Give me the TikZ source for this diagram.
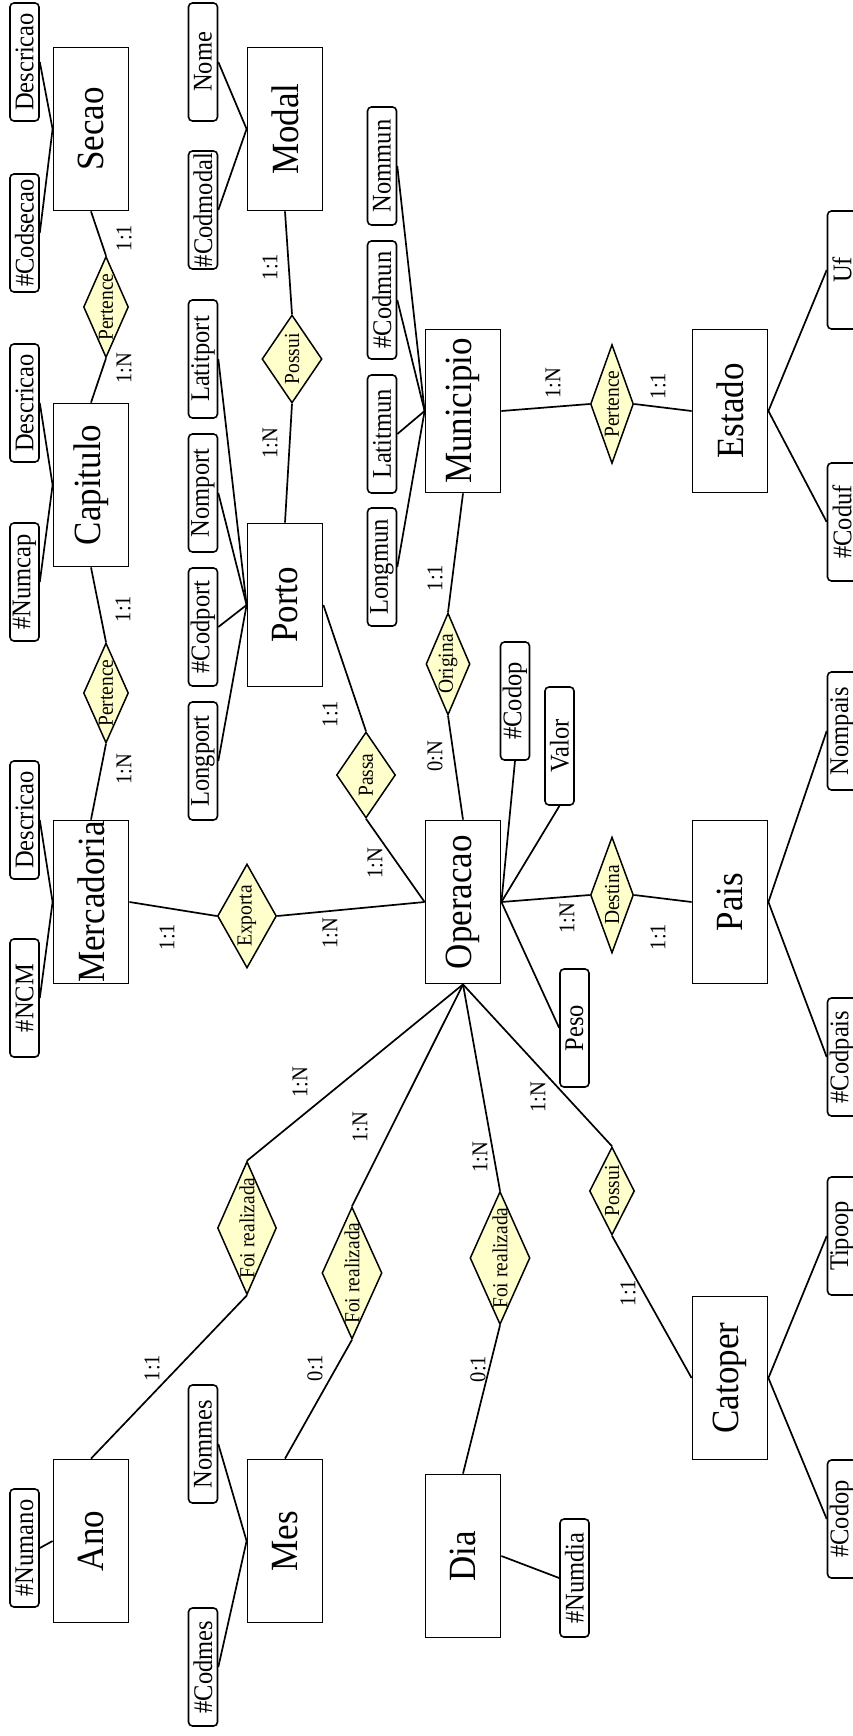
\documentclass[tikz,border=0pt]{standalone}
\usepackage{fontspec}
\setmainfont{Liberation Serif}
\usepackage{graphicx}
\usetikzlibrary{shapes.geometric}
\definecolor{relfill}{RGB}{255,255,204}
\newcommand{\vst}[1]{\scalebox{1}[1.1]{#1}}
\begin{document}
\begin{tikzpicture}[x=1pt,y=-1pt,
 ent/.style={draw, line width=1.8pt, minimum width=75pt, minimum height=163pt, inner sep=0pt},
 att/.style={draw, line width=1.6pt, rounded corners=4pt, minimum width=29pt, minimum height=118pt, inner sep=0pt},
 rel/.style={draw, diamond, fill=relfill, line width=1.5pt, inner sep=0pt},
 enttxt/.style={rotate=90, inner sep=0pt, font=\fontsize{35}{40}\selectfont},
 atttxt/.style={rotate=90, inner sep=0pt, font=\fontsize{24.5}{28}\selectfont},
 reltxt/.style={rotate=90, inner sep=0pt, font=\fontsize{19.5}{22}\selectfont},
 card/.style={rotate=90, inner sep=0pt, font=\fontsize{20.5}{24}\selectfont},
 conn/.style={line width=1.7pt},
]
\useasboundingbox (0,0) rectangle (853,1736);

% ---------- entities
\node[ent] (secao) at (91,129) {};
\node[ent] (capitulo) at (91,485) {};
\node[ent] (mercadoria) at (91,902) {};
\node[ent] (ano) at (91,1541) {};
\node[ent] (modal) at (285,129) {};
\node[ent] (porto) at (285,605) {};
\node[ent] (mes) at (285,1541) {};
\node[ent] (municipio) at (463,411) {};
\node[ent] (operacao) at (463,902) {};
\node[ent] (dia) at (463,1556) {};
\node[ent] (estado) at (730,411) {};
\node[ent] (pais) at (730,902) {};
\node[ent] (catoper) at (730,1378) {};

% ---------- attributes
\node[att] (secdesc) at (24.5,62) {};
\node[att] (codsecao) at (24.5,233) {};
\node[att] (capdesc) at (24.5,403) {};
\node[att] (numcap) at (24.5,582) {};
\node[att] (merdesc) at (24.5,820) {};
\node[att] (ncm) at (24.5,998) {};
\node[att] (numano) at (24.5,1548) {};
\node[att] (nome) at (203,62) {};
\node[att] (codmodal) at (203,210) {};
\node[att] (latitport) at (203,359) {};
\node[att] (nomport) at (203,493) {};
\node[att] (codport) at (203,627) {};
\node[att] (longport) at (203,761) {};
\node[att] (nommes) at (203,1444) {};
\node[att] (codmes) at (203,1667) {};
\node[att] (nommun) at (382,166) {};
\node[att] (codmun) at (382,300) {};
\node[att] (latitmun) at (382,434) {};
\node[att] (longmun) at (382,567) {};
\node[att] (codopop) at (515,701) {};
\node[att] (valor) at (559.5,746) {};
\node[att] (peso) at (574.5,1028) {};
\node[att] (numdia) at (574.5,1578) {};
\node[att] (uf) at (842,270) {};
\node[att] (coduf) at (842,522) {};
\node[att] (nompais) at (842,731) {};
\node[att] (codpais) at (842,1057) {};
\node[att] (tipoop) at (842,1236) {};
\node[att] (codopcat) at (842,1519) {};

% ---------- relationships
\node[rel, minimum width=45pt, minimum height=101pt] (pert1) at (106,307) {};
\node[rel, minimum width=45pt, minimum height=100pt] (pert2) at (106,693) {};
\node[rel, minimum width=60pt, minimum height=88pt] (possui1) at (292,359) {};
\node[rel, minimum width=59pt, minimum height=86pt] (passa) at (366,775) {};
\node[rel, minimum width=59pt, minimum height=104pt] (exporta) at (247,916) {};
\node[rel, minimum width=44pt, minimum height=102pt] (origina) at (448,664) {};
\node[rel, minimum width=43pt, minimum height=119pt] (pert3) at (612,404) {};
\node[rel, minimum width=43pt, minimum height=116pt] (destina) at (612,895) {};
\node[rel, minimum width=59pt, minimum height=133pt] (fr1) at (247,1228) {};
\node[rel, minimum width=60pt, minimum height=132pt] (fr2) at (352,1273) {};
\node[rel, minimum width=60pt, minimum height=133pt] (fr3) at (500,1258) {};
\node[rel, minimum width=45pt, minimum height=88pt] (possui2) at (612,1191) {};

% ---------- relationship connectors
\draw[conn] (secao.south) -- (pert1.north);
\draw[conn] (pert1.south) -- (capitulo.north);
\draw[conn] (capitulo.south) -- (pert2.north);
\draw[conn] (pert2.south) -- (mercadoria.north);
\draw[conn] (mercadoria.east) -- (exporta.west);
\draw[conn] (exporta.east) -- (operacao.west);
\draw[conn] (modal.south) -- (possui1.north);
\draw[conn] (possui1.south) -- (porto.north);
\draw[conn] (porto.east) -- (passa.north);
\draw[conn] (passa.south) -- (operacao.west);
\draw[conn] (municipio.south) -- (origina.north);
\draw[conn] (origina.south) -- (operacao.north);
\draw[conn] (municipio.east) -- (pert3.west);
\draw[conn] (pert3.east) -- (estado.west);
\draw[conn] (operacao.east) -- (destina.west);
\draw[conn] (destina.east) -- (pais.west);
\draw[conn] (operacao.south) -- (fr1.north);
\draw[conn] (fr1.south) -- (ano.north);
\draw[conn] (operacao.south) -- (fr2.north);
\draw[conn] (fr2.south) -- (mes.north);
\draw[conn] (operacao.south) -- (fr3.north);
\draw[conn] (fr3.south) -- (dia.north);
\draw[conn] (operacao.south) -- (possui2.north);
\draw[conn] (possui2.south) -- (catoper.west);

% ---------- attribute connectors
\draw[conn] (secdesc.east) -- (secao.west);
\draw[conn] (codsecao.east) -- (secao.west);
\draw[conn] (capdesc.east) -- (capitulo.west);
\draw[conn] (numcap.east) -- (capitulo.west);
\draw[conn] (merdesc.east) -- (mercadoria.west);
\draw[conn] (ncm.east) -- (mercadoria.west);
\draw[conn] (numano.east) -- (ano.west);
\draw[conn] (nome.east) -- (modal.west);
\draw[conn] (codmodal.east) -- (modal.west);
\draw[conn] (latitport.east) -- (porto.west);
\draw[conn] (nomport.east) -- (porto.west);
\draw[conn] (codport.east) -- (porto.west);
\draw[conn] (longport.east) -- (porto.west);
\draw[conn] (nommes.east) -- (mes.west);
\draw[conn] (codmes.east) -- (mes.west);
\draw[conn] (nommun.east) -- (municipio.west);
\draw[conn] (codmun.east) -- (municipio.west);
\draw[conn] (latitmun.east) -- (municipio.west);
\draw[conn] (longmun.east) -- (municipio.west);
\draw[conn] (codopop.south) -- (operacao.east);
\draw[conn] (valor.south) -- (operacao.east);
\draw[conn] (peso.west) -- (operacao.east);
\draw[conn] (dia.east) -- (numdia.west);
\draw[conn] (estado.east) -- (uf.west);
\draw[conn] (estado.east) -- (coduf.west);
\draw[conn] (pais.east) -- (nompais.west);
\draw[conn] (pais.east) -- (codpais.west);
\draw[conn] (catoper.east) -- (tipoop.west);
\draw[conn] (catoper.east) -- (codopcat.west);

% ---------- entity texts
\node[enttxt] (secaoT) at (secao) {\vst{Secao}};
\node[enttxt] (capituloT) at (capitulo) {\vst{Capitulo}};
\node[enttxt] (mercadoriaT) at (mercadoria) {\vst{Mercadoria}};
\node[enttxt] (anoT) at (ano) {\vst{Ano}};
\node[enttxt] (modalT) at (modal) {\vst{Modal}};
\node[enttxt] (portoT) at (porto) {\vst{Porto}};
\node[enttxt] (mesT) at (mes) {\vst{Mes}};
\node[enttxt] (municipioT) at (municipio) {\vst{Municipio}};
\node[enttxt] (operacaoT) at (operacao) {\vst{Operacao}};
\node[enttxt] (diaT) at (dia) {\vst{Dia}};
\node[enttxt] (estadoT) at (estado) {\vst{Estado}};
\node[enttxt] (paisT) at (pais) {\vst{Pais}};
\node[enttxt] (catoperT) at (catoper) {\vst{Catoper}};

% ---------- attribute texts
\node[atttxt] (secdescT) at (secdesc) {\vst{Descricao}};
\node[atttxt] (codsecaoT) at (codsecao) {\vst{\#Codsecao}};
\node[atttxt] (capdescT) at (capdesc) {\vst{Descricao}};
\node[atttxt] (numcapT) at (numcap) {\vst{\#Numcap}};
\node[atttxt] (merdescT) at (merdesc) {\vst{Descricao}};
\node[atttxt] (ncmT) at (ncm) {\vst{\#NCM}};
\node[atttxt] (numanoT) at (numano) {\vst{\#Numano}};
\node[atttxt] (nomeT) at (nome) {\vst{Nome}};
\node[atttxt] (codmodalT) at (codmodal) {\vst{\#Codmodal}};
\node[atttxt] (latitportT) at (latitport) {\vst{Latitport}};
\node[atttxt] (nomportT) at (nomport) {\vst{Nomport}};
\node[atttxt] (codportT) at (codport) {\vst{\#Codport}};
\node[atttxt] (longportT) at (longport) {\vst{Longport}};
\node[atttxt] (nommesT) at (nommes) {\vst{Nommes}};
\node[atttxt] (codmesT) at (codmes) {\vst{\#Codmes}};
\node[atttxt] (nommunT) at (nommun) {\vst{Nommun}};
\node[atttxt] (codmunT) at (codmun) {\vst{\#Codmun}};
\node[atttxt] (latitmunT) at (latitmun) {\vst{Latitmun}};
\node[atttxt] (longmunT) at (longmun) {\vst{Longmun}};
\node[atttxt] (codopopT) at (codopop) {\vst{\#Codop}};
\node[atttxt] (valorT) at (valor) {\vst{Valor}};
\node[atttxt] (pesoT) at (peso) {\vst{Peso}};
\node[atttxt] (numdiaT) at (numdia) {\vst{\#Numdia}};
\node[atttxt] (ufT) at (uf) {\vst{Uf}};
\node[atttxt] (codufT) at (coduf) {\vst{\#Coduf}};
\node[atttxt] (nompaisT) at (nompais) {\vst{Nompais}};
\node[atttxt] (codpaisT) at (codpais) {\vst{\#Codpais}};
\node[atttxt] (tipoopT) at (tipoop) {\vst{Tipoop}};
\node[atttxt] (codopcatT) at (codopcat) {\vst{\#Codop}};

% ---------- relationship texts
\node[reltxt] (pert1T) at (pert1) {\vst{Pertence}};
\node[reltxt] (pert2T) at (pert2) {\vst{Pertence}};
\node[reltxt] (possui1T) at (possui1) {\vst{Possui}};
\node[reltxt] (passaT) at (passa) {\vst{Passa}};
\node[reltxt] (exportaT) at (exporta) {\vst{Exporta}};
\node[reltxt] (originaT) at (origina) {\vst{Origina}};
\node[reltxt] (pert3T) at (pert3) {\vst{Pertence}};
\node[reltxt] (destinaT) at (destina) {\vst{Destina}};
\node[reltxt] (fr1T) at (fr1) {\vst{Foi realizada}};
\node[reltxt] (fr2T) at (fr2) {\vst{Foi realizada}};
\node[reltxt] (fr3T) at (fr3) {\vst{Foi realizada}};
\node[reltxt] (possui2T) at (possui2) {\vst{Possui}};

% ---------- cardinalities
\node[card] (c1) at (124,238) {\vst{1:1}};
\node[card] (c2) at (124,368) {\vst{1:N}};
\node[card] (c3) at (123,609) {\vst{1:1}};
\node[card] (c4) at (124,769) {\vst{1:N}};
\node[card] (c5) at (270,267) {\vst{1:1}};
\node[card] (c6) at (270,443) {\vst{1:N}};
\node[card] (c7) at (330,714) {\vst{1:1}};
\node[card] (c8) at (375,863) {\vst{1:N}};
\node[card] (c9) at (167,937) {\vst{1:1}};
\node[card] (c10) at (330,933) {\vst{1:N}};
\node[card] (c11) at (435,578) {\vst{1:1}};
\node[card] (c12) at (435,756) {\vst{0:N}};
\node[card] (c13) at (553,383) {\vst{1:N}};
\node[card] (c14) at (658,386) {\vst{1:1}};
\node[card] (c15) at (567,918) {\vst{1:N}};
\node[card] (c16) at (658,937) {\vst{1:1}};
\node[card] (c17) at (300,1082) {\vst{1:N}};
\node[card] (c18) at (152,1368) {\vst{1:1}};
\node[card] (c19) at (360,1127) {\vst{1:N}};
\node[card] (c20) at (315,1368) {\vst{0:1}};
\node[card] (c21) at (480,1157) {\vst{1:N}};
\node[card] (c22) at (478,1369) {\vst{0:1}};
\node[card] (c23) at (538,1097) {\vst{1:N}};
\node[card] (c24) at (628,1293) {\vst{1:1}};
\end{tikzpicture}
\end{document}
